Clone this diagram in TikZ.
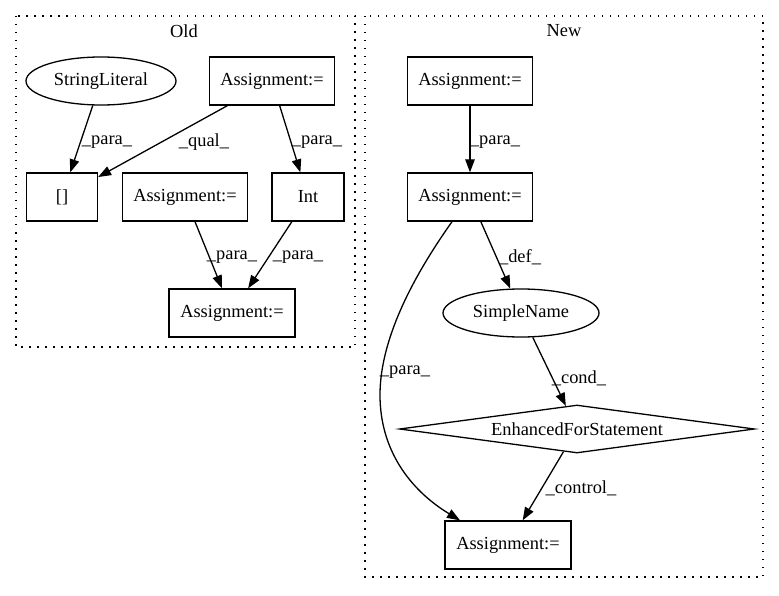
\documentclass[tikz,border=0pt]{standalone}
\usepackage{fontspec}
\setmainfont{Liberation Serif}
\usetikzlibrary{shapes.geometric,arrows.meta}
\tikzset{
  every node/.style={font=\fontsize{18.4}{20}\selectfont},
  box/.style={draw, line width=1.3pt, rectangle, inner sep=0pt, minimum height=48pt},
  oval/.style={draw, line width=1.3pt, ellipse, inner sep=0pt, minimum height=48pt},
  dia/.style={draw, line width=1.3pt, diamond, aspect=7.4, inner sep=0pt, minimum width=355pt, minimum height=48pt},
  edge/.style={draw, line width=1.3pt, -{Triangle[length=13pt,width=9.5pt]}},
  lbl/.style={inner sep=0pt},
  cluster/.style={draw, line width=1.3pt, dash pattern=on 1.5pt off 6.5pt},
}
\begin{document}
\begin{tikzpicture}[x=1pt,y=-1pt]
\useasboundingbox (0,0) rectangle (779,596);
% clusters
\draw[cluster] (16,16) rectangle (355,347);
\node (oldlbl) at (184,31) {Old};
\draw[cluster] (365,16) rectangle (763,577);
\node (newlbl) at (564,31) {New};

% Old nodes
\node[oval, minimum width=150pt] (sl) at (101,81) {StringLiteral};
\node[box, minimum width=125pt] (oa1) at (272,81) {Assignment:=};
\node[box, minimum width=71pt] (br) at (62,197) {[]};
\node[box, minimum width=125pt] (oa2) at (185,197) {Assignment:=};
\node[box, minimum width=72pt] (int) at (308,197) {Int};
\node[box, minimum width=126pt] (oa3) at (232,313) {Assignment:=};

\draw[edge] (sl) -- (br);
\draw[edge] (oa1) -- (br);
\draw[edge] (oa1) -- (int);
\draw[edge] (oa2) -- (oa3);
\draw[edge] (int) -- (oa3);
\node[lbl] (l1) at (107,142) {\_para\_};
\node[lbl] (l2) at (204,142) {\_qual\_};
\node[lbl] (l3) at (317,142) {\_para\_};
\node[lbl] (l4) at (232,257) {\_para\_};
\node[lbl] (l5) at (298,257) {\_para\_};

% New nodes
\node[box, minimum width=125pt] (na1) at (470,81) {Assignment:=};
\node[box, minimum width=125pt] (na2) at (470,197) {Assignment:=};
\node[oval, minimum width=156pt] (sn) at (521,313) {SimpleName};
\node[dia] (efs) at (577,429) {EnhancedForStatement};
\node[box, minimum width=126pt] (na3) at (508,545) {Assignment:=};

\draw[edge] (na1) -- (na2);
\draw[edge] (na2) -- (sn);
\draw[edge] (sn) -- (efs);
\draw[edge] (efs) -- (na3);
\draw[edge] ([xshift=-18pt]na2.south) .. controls (425,260) and (380,330) .. (380,395)
  .. controls (380,450) and (410,490) .. ([xshift=-48pt]na3.north);
\node[lbl] (l6) at (495,142) {\_para\_};
\node[lbl] (l7) at (520,257) {\_def\_};
\node[lbl] (l8) at (405,372) {\_para\_};
\node[lbl] (l9) at (579,378) {\_cond\_};
\node[lbl] (l10) at (581,488) {\_control\_};
\end{tikzpicture}
\end{document}
